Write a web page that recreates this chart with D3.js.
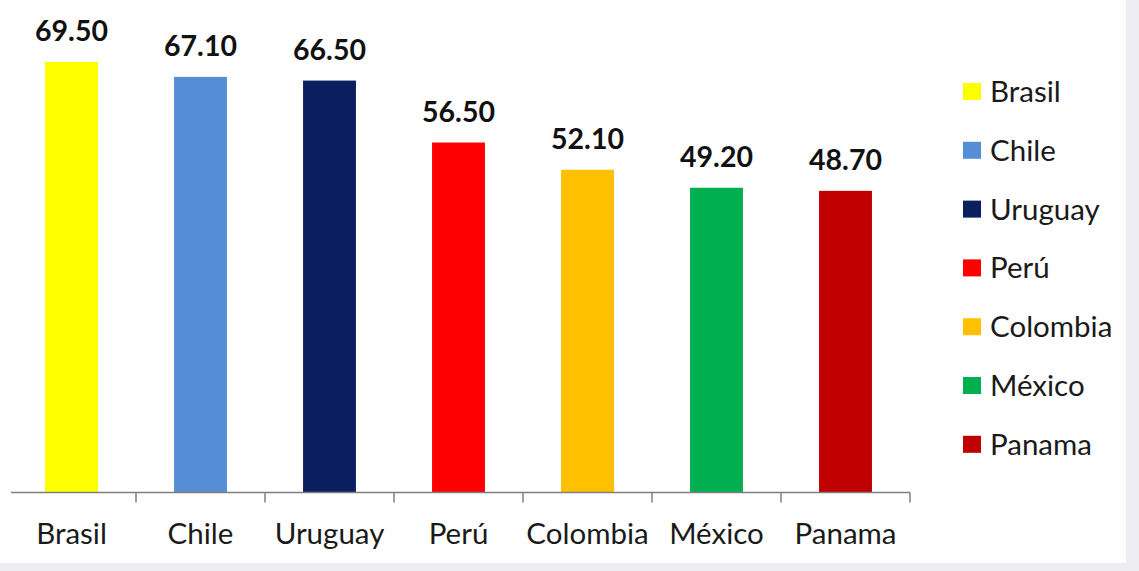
<!DOCTYPE html>
<html>
<head>
<meta charset="utf-8">
<script src="https://cdn.jsdelivr.net/npm/d3@7"></script>
<style>
  html, body { margin: 0; padding: 0; background: #fff; }
  svg { display: block; }
</style>
</head>
<body>
<svg id="chart" width="1139" height="571"></svg>
<script>
// Country values
const countries = ["Brasil", "Chile", "Uruguay", "Perú", "Colombia", "México", "Panama"];
const values = [69.5, 67.1, 66.5, 56.5, 52.1, 49.2, 48.7];
const colors = ["#FFFF00", "#558ED5", "#0B1F5E", "#FF0000", "#FFC000", "#00B050", "#C00000"];

const svg = d3.select("#chart");
const W = 1139, H = 571;
const font = "Lato, 'Liberation Sans', Arial, sans-serif";

// page edge shading
svg.append("rect").attr("x", 0).attr("y", 0).attr("width", W).attr("height", H).attr("fill", "#ececf1");
svg.append("rect").attr("x", 0).attr("y", 0).attr("width", 1126).attr("height", 563).attr("fill", "#ffffff");

const baseY = 492.5;
const x = d3.scaleBand().domain(countries).range([7, 910]).paddingInner(0.59).paddingOuter(0.295);
const y = d3.scaleLinear().domain([0, 69.5]).range([baseY, 62]);
const color = d3.scaleOrdinal().domain(countries).range(colors);

const data = countries.map((c, i) => ({ c, v: values[i] }));

// bars
svg.append("g").selectAll("rect").data(data).join("rect")
  .attr("x", d => x(d.c))
  .attr("y", d => y(d.v))
  .attr("width", x.bandwidth())
  .attr("height", d => y(0) - y(d.v))
  .attr("fill", d => color(d.c));

// value labels
svg.append("g").selectAll("text").data(data).join("text")
  .attr("x", d => x(d.c) + x.bandwidth() / 2)
  .attr("y", d => y(d.v) - 21)
  .attr("text-anchor", "middle")
  .attr("font-family", font)
  .attr("font-weight", "bold")
  .attr("font-size", 28.5)
  .attr("fill", "#111")
  .text(d => d.v.toFixed(2));

// category axis
const axisG = svg.append("g").attr("transform", `translate(0,${baseY})`);
axisG.append("line").attr("x1", 11).attr("x2", 910).attr("y1", 0).attr("y2", 0)
  .attr("stroke", "#7f7f7f").attr("stroke-width", 1.5);
const step = x.step();
const bounds = countries.map(c => x(c) + x.bandwidth() / 2 + step / 2);
axisG.selectAll("line.tick").data(bounds).join("line").attr("class", "tick")
  .attr("x1", d => d).attr("x2", d => d).attr("y1", 0).attr("y2", 10)
  .attr("stroke", "#7f7f7f").attr("stroke-width", 1.5);

const xAxis = d3.axisBottom(x).tickSize(0).tickPadding(0);
const gx = svg.append("g").attr("transform", `translate(0,${baseY})`).call(xAxis);
gx.select(".domain").remove();
gx.selectAll("text")
  .attr("font-family", font)
  .attr("font-size", 29.5)
  .attr("fill", "#1a1a1a")
  .attr("dy", null)
  .attr("y", 51);

// legend
const legend = svg.append("g").selectAll("g").data(countries).join("g")
  .attr("transform", (d, i) => `translate(963,${92 + i * 58.8})`);
legend.append("rect").attr("x", 0).attr("y", -9).attr("width", 18).attr("height", 17)
  .attr("fill", d => color(d));
legend.append("text").attr("x", 27).attr("y", 10)
  .attr("font-family", font).attr("font-size", 29.5).attr("fill", "#1a1a1a")
  .text(d => d);
</script>
</body>
</html>
